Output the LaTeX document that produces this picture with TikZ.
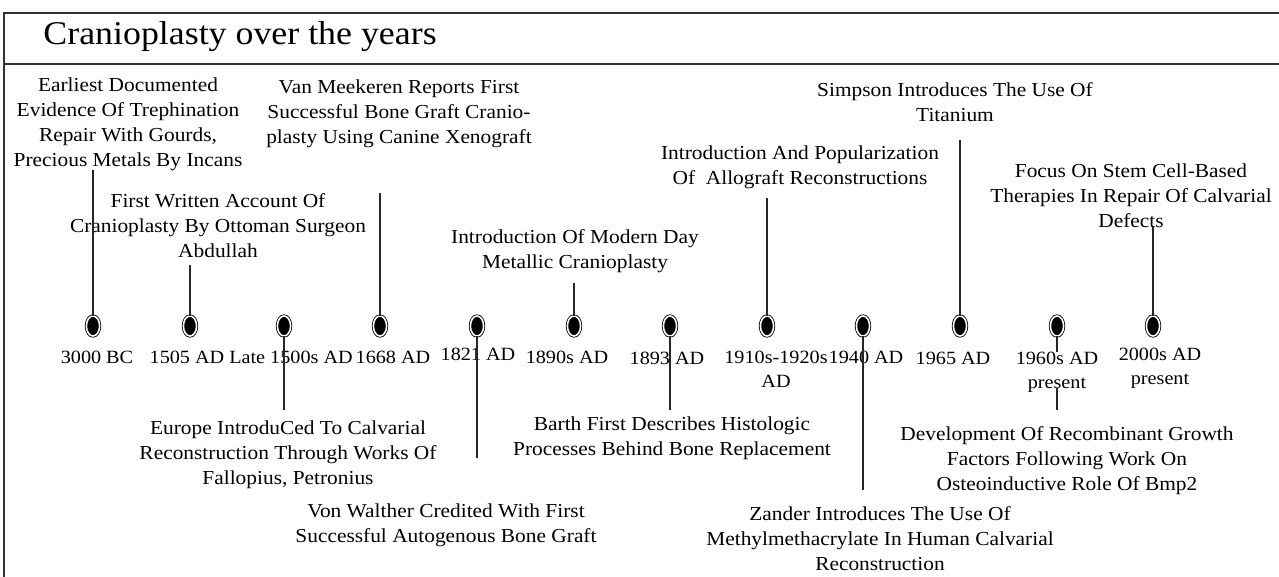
\documentclass[tikz,border=0pt]{standalone}
\usepackage{fontspec}
\setmainfont[FakeStretch=1.08]{Liberation Serif}
\usepackage{tikz}
\usetikzlibrary{shapes,positioning}

\begin{document}
\begin{tikzpicture}[x = 0.5pt, y = -0.5pt,
	yeardot/.style = {shape=ellipse, draw, fill=black, double=white, double distance=0.8pt, line width=0.4pt, minimum width=6.6pt, minimum height=10pt, inner sep=0pt},
	year/.style = {anchor=north, align=center, inner sep=0pt, font=\fontsize{9.35}{12}\selectfont},
	event/.style = {anchor=north, align=center, inner sep=0pt, font=\fontsize{9.9}{12.6}\selectfont},
	stem/.style = {line width = 0.6, draw=black!85}]
	\useasboundingbox (0,0) rectangle (1279,577);
	
	% frame and title
	\draw [line width = 0.8, black!80] (4,577) -- (4,13) -- (1279,13);
	\draw [line width = 0.8, black!80] (4,64) -- (1279,64);
	\node(title) at (43,45)[anchor=base west, inner sep=0pt][font=\fontsize{16.6}{20}\selectfont] {Cranioplasty over the years};
	
	% year markers
	\node(m0) at (93,326)[yeardot] {};
	\node(m1) at (190,326)[yeardot] {};
	\node(m2) at (284,326)[yeardot] {};
	\node(m3) at (380,326)[yeardot] {};
	\node(m4) at (477,326)[yeardot] {};
	\node(m5) at (574,326)[yeardot] {};
	\node(m6) at (670,326)[yeardot] {};
	\node(m7) at (767,326)[yeardot] {};
	\node(m8) at (863,326)[yeardot] {};
	\node(m9) at (960,326)[yeardot] {};
	\node(m10) at (1057,326)[yeardot] {};
	\node(m11) at (1153,326)[yeardot] {};
	
	% years
	\node(d0) at (97,351)[year] {3000 BC};
	\node(d1) at (187,351)[year] {1505 AD};
	\node(d2) at (291,351)[year] {Late 1500s AD};
	\node(d3) at (393,351)[year] {1668 AD};
	\node(d4) at (478,348)[year] {1821 AD};
	\node(d5) at (567,351)[year] {1890s AD};
	\node(d6) at (667,352)[year] {1893 AD};
	\node(d7) at (776,351)[year] {1910s-1920s\\AD};
	\node(d8) at (866,351)[year] {1940 AD};
	\node(d9) at (953,352)[year] {1965 AD};
	\node(d10) at (1057,352)[year] {1960s AD\\present};
	\node(d11) at (1160,348)[year] {2000s AD\\present};
	
	% events above
	\node(e0) at (128,77)[event] {Earliest Documented\\Evidence Of Trephination\\Repair With Gourds,\\Precious Metals By Incans};
	\node(e1) at (218,193)[event] {First Written Account Of\\Cranioplasty By Ottoman Surgeon\\Abdullah};
	\node(e3) at (399,79)[event] {Van Meekeren Reports First\\Successful Bone Graft Cranio-\\plasty Using Canine Xenograft};
	\node(e5) at (575,229)[event] {Introduction Of Modern Day\\Metallic Cranioplasty};
	\node(e7) at (800,145)[event] {Introduction And Popularization\\Of\ \ Allograft Reconstructions};
	\node(e9) at (955,82)[event] {Simpson Introduces The Use Of\\Titanium};
	\node(e11) at (1131,163)[event] {Focus On Stem Cell-Based\\Therapies In Repair Of Calvarial\\Defects};
	
	% events below
	\node(e2) at (288,420)[event] {Europe IntroduCed To Calvarial\\Reconstruction Through Works Of\\Fallopius, Petronius};
	\node(e4) at (446,503)[event] {Von Walther Credited With First\\Successful Autogenous Bone Graft};
	\node(e6) at (672,416)[event] {Barth First Describes Histologic\\Processes Behind Bone Replacement};
	\node(e8) at (880,506)[event] {Zander Introduces The Use Of\\Methylmethacrylate In Human Calvarial\\Reconstruction};
	\node(e10) at (1067,426)[event] {Development Of Recombinant Growth\\Factors Following Work On\\Osteoinductive Role Of Bmp2};
	
	% stem ends
	\coordinate (t0) at (93,170);
	\coordinate (t1) at (190,265);
	\coordinate (t3) at (380,193);
	\coordinate (t5) at (574,283);
	\coordinate (t7) at (767,198);
	\coordinate (t9) at (960,140);
	\coordinate (t11) at (1153,227);
	\coordinate (b2) at (284,410);
	\coordinate (b4) at (477,458);
	\coordinate (b6) at (670,410);
	\coordinate (b8) at (863,490);
	\coordinate (u10) at (1057,388);
	\coordinate (b10) at (1057,410);
	
	\path [stem]
	(m0) edge (t0)
	(m1) edge (t1)
	(m3) edge (t3)
	(m5) edge (t5)
	(m7) edge (t7)
	(m9) edge (t9)
	(m11) edge (t11)
	(m2) edge (b2)
	(m4) edge (b4)
	(m6) edge (b6)
	(m8) edge (b8)
	(m10) edge (d10)
	(u10) edge (b10);
\end{tikzpicture}
\end{document}
